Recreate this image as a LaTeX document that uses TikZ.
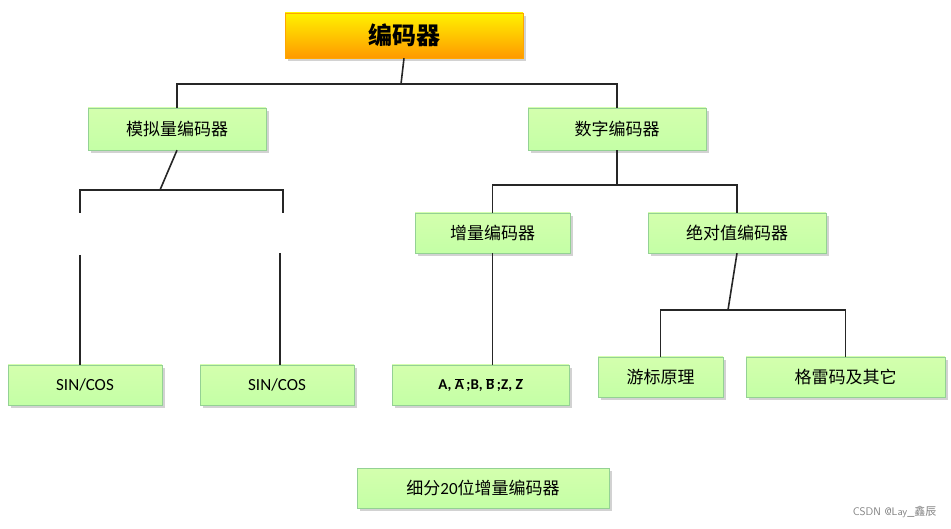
\documentclass[tikz,border=0pt]{standalone}
\usepackage{fontspec}
\setmainfont{Carlito}
\newfontfamily\cjk{Noto Sans CJK SC}
\usetikzlibrary{calc}
\begin{document}
\begin{tikzpicture}[x=1pt,y=-1pt,
  box/.style={draw=green!40!gray!60,inner sep=0pt,top color=green!15!white!80!lime,bottom color=lime!45!green!35,
    font=\fontsize{17}{17}\selectfont\cjk,text=black,
    drop shadow/.style={},
    postaction={}},
  gbox/.style={draw=orange!70!yellow,inner sep=0pt,top color=yellow!90!orange,bottom color=orange!80!yellow,
    font=\fontsize{24}{24}\selectfont\bfseries\cjk},
  ln/.style={line width=1.6pt,black!85}]
\useasboundingbox (0,0) rectangle (951,529);
\newcommand\mybox[7]{% name, x1,y1,x2,y2, style, text
  \fill[gray!35] (#2+3,#3+3) rectangle (#4+3,#5+3);
  \node[#6,minimum width=#4-#2,minimum height=#5-#3] (#1) at ({(#2+#4)/2},{(#3+#5)/2}) {#7};}
\mybox{top}{285}{13}{523}{58}{gbox}{编码器}
\mybox{ana}{88}{108}{266}{150}{box}{模拟量编码器}
\mybox{dig}{528}{108}{706}{150}{box}{数字编码器}
\mybox{inc}{415}{213}{570}{253}{box}{增量编码器}
\mybox{abs}{648}{213}{826}{253}{box}{绝对值编码器}
\mybox{sc1}{8}{365}{162}{405}{box}{\rmfamily SIN/COS}
\mybox{sc2}{200}{365}{354}{405}{box}{\rmfamily SIN/COS}
\mybox{ab}{392}{365}{569}{405}{box}{\rmfamily\bfseries\fontsize{15}{15}\selectfont A, $\overline{\mbox{A}}$\,;B, $\overline{\mbox{B}}$\,;Z, $\overline{\mbox{Z}}$}
\mybox{ver}{598}{357}{723}{397}{box}{游标原理}
\mybox{gray}{746}{357}{945}{397}{box}{格雷码及其它}
\mybox{sub}{357}{468}{609}{508}{box}{细分{\rmfamily 20}位增量编码器}
\coordinate (j1) at (401,84);
\coordinate (j2) at (160,190);
\coordinate (la) at (80,213);
\coordinate (ra) at (283,213);
\coordinate (lb) at (80,255);
\coordinate (rb) at (280,253);
\coordinate (j3) at (617,185);
\coordinate (j4) at (728,310);
\draw[ln] (top.south) -- (j1);
\draw[ln] (ana.north) -- (ana.north|-j1) -| (dig.north);
\draw[ln] (ana.south) -- (j2);
\draw[ln] (la) |- (j2) -| (ra);
\draw[ln] (lb) -- (lb|-sc1.north);
\draw[ln,line width=2.4pt] (rb) -- (rb|-sc1.north);
\draw[ln] (dig.south) -- (j3);
\draw[ln] (inc.north) |- (j3) -| (abs.north);
\draw[ln] (inc.south) -- (inc.south|-ab.north);
\draw[ln] (ab.south-|inc.south) -- (ab.south-|inc.south|-sub.north);
\draw[ln] (abs.south) -- (j4);
\draw[ln] (ver.north) |- (j4) -| (gray.north);
\node[font=\fontsize{11}{11}\selectfont\sffamily,text=gray,anchor=east] (wm) at (940,512) {CSDN @Lay\_{\cjk 鑫辰}};
\end{tikzpicture}
\end{document}
